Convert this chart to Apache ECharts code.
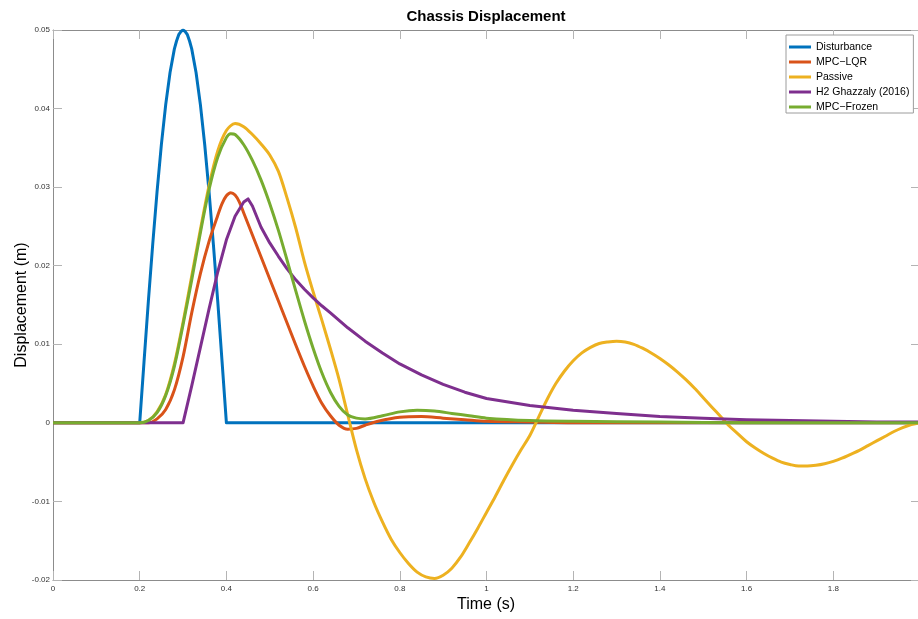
<!DOCTYPE html>
<html>
<head>
<meta charset="utf-8">
<script src="https://cdn.jsdelivr.net/npm/echarts@6/dist/echarts.min.js"></script>
<style>
  html, body { margin: 0; padding: 0; background: #ffffff; }
  #chart { width: 918px; height: 619px; }
</style>
</head>
<body>
<div id="chart"></div>
<script>
// Chassis displacement responses (m) against time (s)

const seriesNames = ['Disturbance', 'MPC\u2212LQR', 'Passive', 'H2 Ghazzaly (2016)', 'MPC\u2212Frozen'];
const seriesColors = ['#0072BD', '#D95319', '#EDB120', '#7E2F8E', '#77AC30'];
const seriesSmooth = [false, 0.3, 0.3, false, 0.3];

const xTicks = [0, 0.2, 0.4, 0.6, 0.8, 1, 1.2, 1.4, 1.6, 1.8, 2];
const yTicks = [-0.02, -0.01, 0, 0.01, 0.02, 0.03, 0.04, 0.05];

// Road disturbance bump
const timeDisturbance = [0, 0.20, 0.21, 0.22, 0.23, 0.24, 0.25, 0.26, 0.27, 0.28, 0.285, 0.29, 0.295,
  0.30, 0.305, 0.31, 0.315, 0.32, 0.33, 0.34, 0.35, 0.36, 0.37, 0.38, 0.39, 0.40, 2.00];
const disturbance = [0, 0, 0.0078, 0.0155, 0.0227, 0.0294, 0.0354, 0.0405, 0.0446, 0.0476, 0.0486,
  0.0494, 0.0498, 0.0500, 0.0498, 0.0494, 0.0486, 0.0476, 0.0446, 0.0405, 0.0354, 0.0294, 0.0227,
  0.0155, 0.0078, 0, 0];

// MPC-LQR controller
const timeLqr = [0, 0.22, 0.24, 0.26, 0.28, 0.30, 0.32, 0.34, 0.36, 0.38, 0.39, 0.40, 0.41, 0.42, 0.43,
  0.44, 0.46, 0.48, 0.50, 0.52, 0.54, 0.56, 0.58, 0.60, 0.62, 0.64, 0.66, 0.68, 0.70, 0.72, 0.75,
  0.80, 0.85, 0.90, 0.95, 1.00, 1.10, 1.20, 2.00];
const mpcLqr = [0, 0, 0.0005, 0.0017, 0.0042, 0.0084, 0.0140, 0.0190, 0.0231, 0.0264, 0.0279, 0.0289,
  0.0293, 0.0290, 0.0281, 0.0267, 0.0239, 0.0211, 0.0183, 0.0155, 0.0127, 0.0099, 0.0072, 0.0047,
  0.0025, 0.0009, -0.0003, -0.0008, -0.0007, -0.0003, 0.0002, 0.0007, 0.0008, 0.0006, 0.0004,
  0.0002, 0.0001, 0, 0];

// Passive suspension
const timePassive = [0, 0.20, 0.22, 0.24, 0.26, 0.28, 0.30, 0.32, 0.34, 0.36, 0.38, 0.40, 0.42, 0.44,
  0.46, 0.48, 0.50, 0.52, 0.54, 0.56, 0.58, 0.60, 0.62, 0.64, 0.66, 0.68, 0.70, 0.72, 0.74, 0.76,
  0.78, 0.80, 0.82, 0.84, 0.86, 0.88, 0.90, 0.92, 0.94, 0.96, 0.98, 1.00, 1.02, 1.04, 1.06, 1.08,
  1.10, 1.12, 1.14, 1.16, 1.18, 1.20, 1.22, 1.24, 1.26, 1.28, 1.30, 1.32, 1.34, 1.36, 1.38, 1.40,
  1.42, 1.44, 1.46, 1.48, 1.50, 1.52, 1.54, 1.56, 1.58, 1.60, 1.62, 1.64, 1.66, 1.68, 1.70, 1.72,
  1.74, 1.76, 1.78, 1.80, 1.82, 1.84, 1.86, 1.88, 1.90, 1.92, 1.94, 1.96, 1.98, 2.00];
const passive = [0, 0, 0.0003, 0.0014, 0.0036, 0.0075, 0.0128, 0.0187, 0.0246, 0.0302, 0.0346, 0.0372,
  0.0381, 0.0377, 0.0367, 0.0355, 0.0341, 0.0320, 0.0286, 0.0248, 0.0205, 0.0167, 0.0131, 0.0094,
  0.0055, 0.0010, -0.0034, -0.0071, -0.0101, -0.0126, -0.0148, -0.0165, -0.0179, -0.0190, -0.0196,
  -0.0198, -0.0194, -0.0185, -0.0171, -0.0153, -0.0134, -0.0114, -0.0094, -0.0073, -0.0053, -0.0034,
  -0.0016, 0.0007, 0.0030, 0.0050, 0.0066, 0.0079, 0.0089, 0.0096, 0.0101, 0.0103, 0.0104, 0.0103,
  0.0100, 0.0095, 0.0089, 0.0082, 0.0074, 0.0065, 0.0055, 0.0044, 0.0032, 0.0020, 0.0008, -0.0004,
  -0.0014, -0.0024, -0.0032, -0.0039, -0.0045, -0.0050, -0.0053, -0.0055, -0.0055, -0.0054, -0.0052,
  -0.0049, -0.0045, -0.0040, -0.0035, -0.0029, -0.0023, -0.0017, -0.0011, -0.0006, -0.0002, 0];

// H2 controller, Ghazzaly (2016)
const timeH2 = [0, 0.30, 0.32, 0.34, 0.36, 0.38, 0.40, 0.42, 0.44, 0.45, 0.46, 0.48, 0.50, 0.52, 0.54,
  0.56, 0.58, 0.60, 0.62, 0.64, 0.68, 0.72, 0.76, 0.80, 0.85, 0.90, 0.95, 1.00, 1.10, 1.20, 1.30,
  1.40, 1.50, 1.60, 1.70, 1.80, 1.90, 2.00];
const h2Ghazzaly = [0, 0, 0.0047, 0.0096, 0.0145, 0.0192, 0.0233, 0.0263, 0.0281, 0.0285, 0.0276,
  0.0249, 0.0229, 0.0212, 0.0196, 0.0182, 0.0170, 0.0159, 0.0149, 0.0140, 0.0121, 0.0104, 0.0089,
  0.0075, 0.0061, 0.0049, 0.0039, 0.0031, 0.0022, 0.0016, 0.0012, 0.0008, 0.0006, 0.0004, 0.0003,
  0.0002, 0.0001, 0.0001];

// MPC with frozen prediction model
const timeFrozen = [0, 0.20, 0.22, 0.24, 0.26, 0.28, 0.30, 0.32, 0.34, 0.36, 0.38, 0.40, 0.41, 0.42,
  0.44, 0.46, 0.48, 0.50, 0.52, 0.54, 0.56, 0.58, 0.60, 0.62, 0.64, 0.66, 0.68, 0.70, 0.72, 0.76,
  0.80, 0.84, 0.88, 0.92, 0.96, 1.00, 1.10, 1.20, 1.40, 1.60, 2.00];
const mpcFrozen = [0, 0, 0.0003, 0.0013, 0.0035, 0.0072, 0.0125, 0.0182, 0.0242, 0.0297, 0.0338,
  0.0363, 0.0368, 0.0367, 0.0354, 0.0334, 0.0309, 0.0279, 0.0245, 0.0207, 0.0168, 0.0130, 0.0095,
  0.0064, 0.0039, 0.0021, 0.0010, 0.0006, 0.0005, 0.0009, 0.0014, 0.0016, 0.0015, 0.0012, 0.0009,
  0.0006, 0.0003, 0.0002, 0.0001, 0, 0];

const timeSets = [timeDisturbance, timeLqr, timePassive, timeH2, timeFrozen];
const valueSets = [disturbance, mpcLqr, passive, h2Ghazzaly, mpcFrozen];

const FONT = '"Liberation Sans", Arial, Helvetica, sans-serif';
const AXIS_COLOR = '#8c8c8c';
const TICK_COLOR = '#b4b4b4';

function zip(ts, vs) {
  return ts.map(function (t, i) { return [t, vs[i]]; });
}

const xFmt = function (v) { return String(Math.round(v * 10) / 10); };
const yFmt = function (v) { return String(Math.round(v * 100) / 100); };

function xAxisDef(pos, showLabels) {
  return {
    type: 'value', position: pos,
    min: xTicks[0], max: xTicks[xTicks.length - 1], interval: 0.2,
    axisLine: { show: true, onZero: false, lineStyle: { color: AXIS_COLOR, width: 1 } },
    axisTick: { show: true, inside: true, length: 9, lineStyle: { color: TICK_COLOR, width: 1 } },
    axisLabel: { show: showLabels, fontSize: 8, color: '#333', margin: 5, fontFamily: FONT,
      formatter: xFmt, showMinLabel: true, showMaxLabel: true, hideOverlap: false },
    splitLine: { show: false }
  };
}

function yAxisDef(pos, showLabels) {
  return {
    type: 'value', position: pos,
    min: yTicks[0], max: yTicks[yTicks.length - 1], interval: 0.01,
    axisLine: { show: true, onZero: false, lineStyle: { color: AXIS_COLOR, width: 1 } },
    axisTick: { show: true, inside: true, length: 9, lineStyle: { color: TICK_COLOR, width: 1 } },
    axisLabel: { show: showLabels, fontSize: 8, color: '#333', margin: 3, fontFamily: FONT,
      formatter: yFmt, showMinLabel: true, showMaxLabel: true },
    splitLine: { show: false }
  };
}

const chart = echarts.init(document.getElementById('chart'), null, { renderer: 'canvas' });

chart.setOption({
  animation: false,
  backgroundColor: '#ffffff',
  grid: { left: 53, top: 30, width: 867, height: 550, containLabel: false, outerBoundsMode: 'none' },
  xAxis: [xAxisDef('bottom', true), xAxisDef('top', false)],
  yAxis: [yAxisDef('left', true), yAxisDef('right', false)],
  legend: {
    orient: 'vertical',
    left: 786, top: 35,
    padding: [6, 4, 0, 3],
    itemGap: 3,
    itemWidth: 22, itemHeight: 3,
    icon: 'rect',
    borderColor: '#9c9c9c', borderWidth: 1,
    backgroundColor: '#ffffff',
    textStyle: { fontSize: 10.5, color: '#000', lineHeight: 12, fontFamily: FONT },
    data: seriesNames
  },
  graphic: [
    {
      type: 'text', x: 486, y: 17,
      style: { text: 'Chassis Displacement', font: 'bold 15px ' + FONT, fill: '#000',
        textAlign: 'center', textVerticalAlign: 'middle' }
    },
    {
      type: 'text', x: 486, y: 605,
      style: { text: 'Time (s)', font: '16px ' + FONT, fill: '#000',
        textAlign: 'center', textVerticalAlign: 'middle' }
    },
    {
      type: 'text', x: 22, y: 305, rotation: Math.PI / 2,
      style: { text: 'Displacement (m)', font: '16px ' + FONT, fill: '#000',
        textAlign: 'center', textVerticalAlign: 'middle' }
    }
  ],
  series: seriesNames.map(function (name, i) {
    return {
      name: name,
      type: 'line',
      xAxisIndex: 0, yAxisIndex: 0,
      data: zip(timeSets[i], valueSets[i]),
      showSymbol: false,
      smooth: seriesSmooth[i],
      color: seriesColors[i],
      lineStyle: { width: 3, color: seriesColors[i], join: 'round' },
      emphasis: { disabled: true }
    };
  })
});
</script>
</body>
</html>
